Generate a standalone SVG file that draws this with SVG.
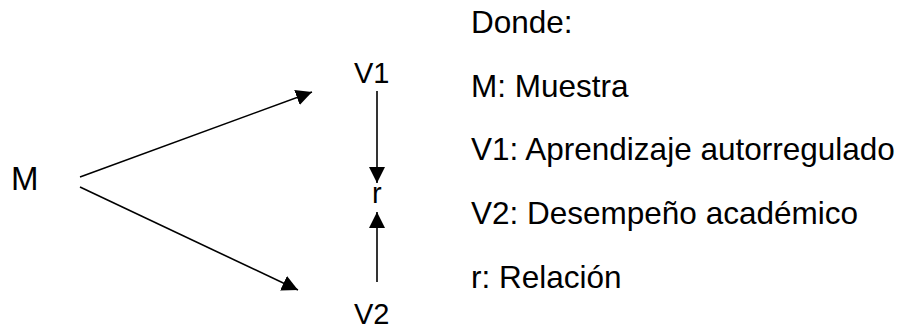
<svg xmlns="http://www.w3.org/2000/svg" width="900" height="330" viewBox="0 0 900 330">
  <style>
    .lbl { font-family: "Liberation Sans", Arial, sans-serif; font-size: 29px; fill: #000; }
    .big { font-size: 33px; }
    .leg { font-family: "Liberation Sans", Arial, sans-serif; font-size: 31.5px; fill: #000; }
    .edge { stroke: #000; stroke-width: 1.6; fill: none; marker-end: url(#ah); }
  </style>
  <defs>
    <marker id="ah" markerUnits="userSpaceOnUse" markerWidth="18" markerHeight="18" refX="16" refY="8" orient="auto">
      <path d="M0,0 L16,8 L0,16 Z" fill="#000"/>
    </marker>
  </defs>
  <rect width="900" height="330" fill="#fff"/>
  <g id="node-M"><text class="lbl big" x="11" y="190">M</text></g>
  <g id="node-V1"><text class="lbl" x="354" y="83">V1</text></g>
  <g id="node-r"><text class="lbl" x="372" y="203">r</text></g>
  <g id="node-V2"><text class="lbl" x="354" y="324">V2</text></g>
  <g id="connectors">
    <line class="edge" x1="80" y1="177" x2="312" y2="92"/>
    <line class="edge" x1="80" y1="187" x2="298" y2="290"/>
    <line class="edge" x1="377" y1="91" x2="377" y2="183"/>
    <line class="edge" x1="377" y1="282" x2="377" y2="212"/>
  </g>
  <g id="legend">
    <text class="leg" x="471" y="33">Donde:</text>
    <text class="leg" x="471" y="97">M: Muestra</text>
    <text class="leg" x="471" y="160">V1: Aprendizaje autorregulado</text>
    <text class="leg" x="471" y="224">V2: Desempeño académico</text>
    <text class="leg" x="471" y="288">r: Relación</text>
  </g>
</svg>
